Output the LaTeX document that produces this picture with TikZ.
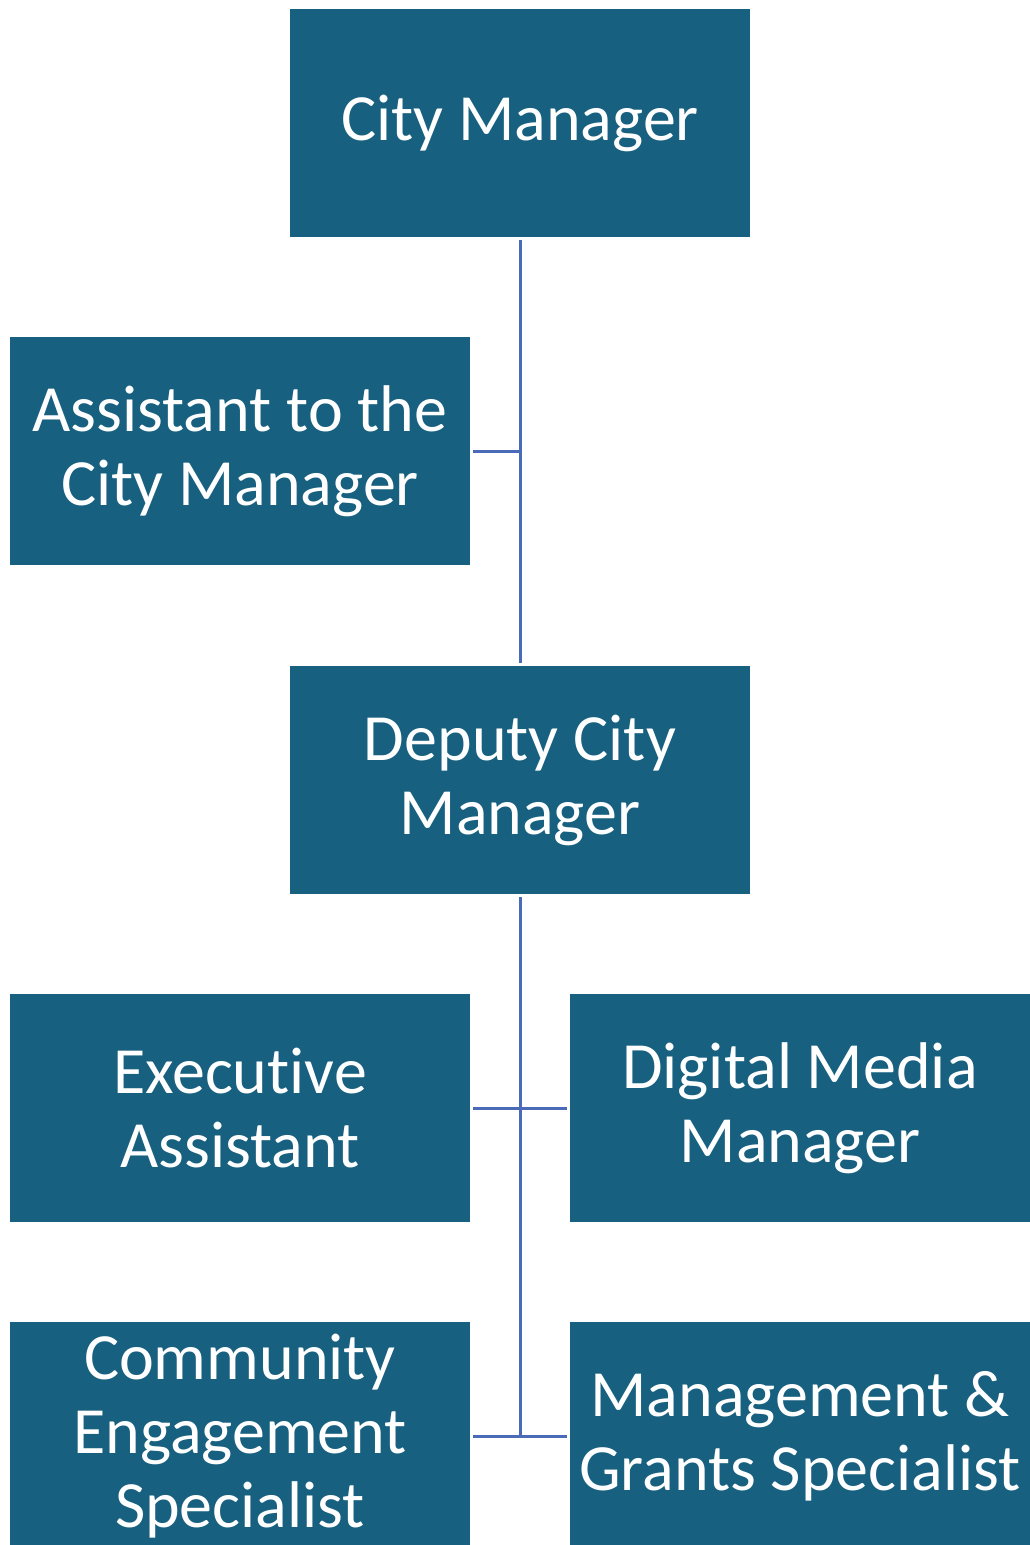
\documentclass[tikz,border=0pt]{standalone}
\usepackage{fontspec}
\setmainfont[RawFeature={-liga;-clig;-dlig;-calt;-hlig}]{Carlito}
\definecolor{boxblue}{HTML}{17607F}
\definecolor{lineblue}{HTML}{4A6CB8}
\begin{document}
\begin{tikzpicture}[x=1pt, y=-1pt,
    post/.style={fill=boxblue, text=white, minimum width=460pt, minimum height=228pt,
        align=center, inner sep=0pt, outer sep=3pt, font=\fontsize{66}{74}\selectfont},
    link/.style={draw=lineblue, line width=3pt}]
\useasboundingbox (0,0) rectangle (1029,1545);
\node[post] (cm) at (520,123) {City Manager};
\node[post] (atcm) at (240,451) {Assistant to the\\City Manager};
\node[post] (dcm) at (520,780) {Deputy City\\Manager};
\node[post] (ea) at (240,1108) {Executive\\Assistant};
\node[post] (dmm) at (800,1108) {Digital Media\\Manager};
\node[post] (ces) at (240,1436) {Community\\Engagement\\Specialist};
\node[post] (mgs) at (800,1436) {Management \&\\Grants Specialist};
\coordinate (j1) at (520,451);
\coordinate (j3) at (520,1436);
\draw[link] (cm) -- (dcm);
\draw[link] (atcm) -- (j1);
\draw[link] (dcm) -- (j3);
\draw[link] (ea) -- (dmm);
\draw[link] (ces) -- (mgs);
\end{tikzpicture}
\end{document}
